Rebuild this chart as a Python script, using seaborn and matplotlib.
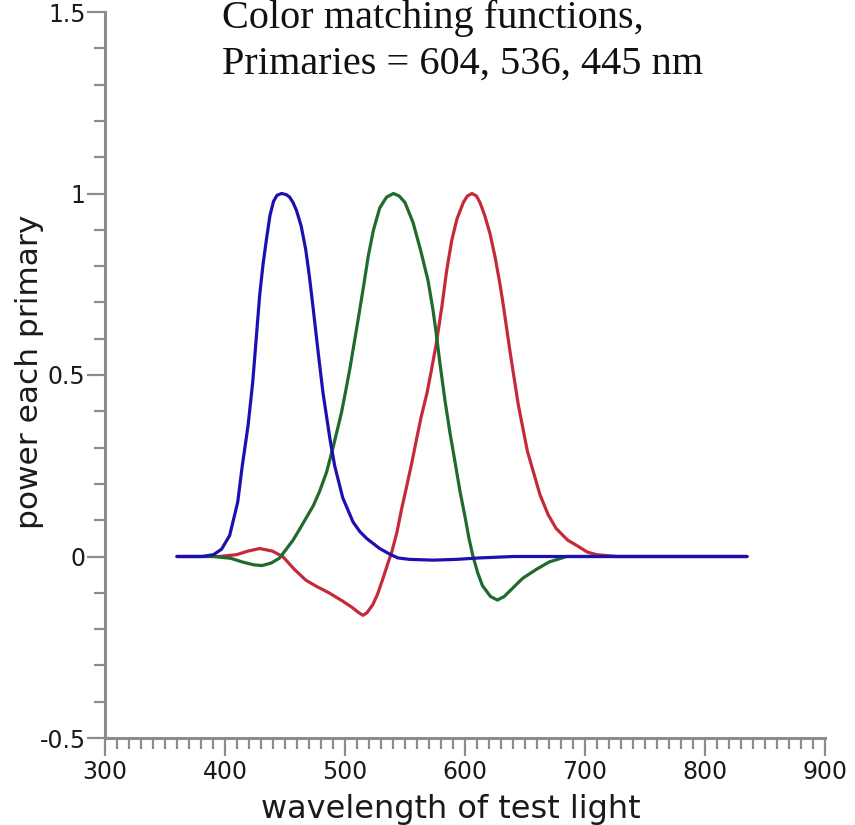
import numpy as np
import pandas as pd
import matplotlib
matplotlib.use("Agg")
import matplotlib.pyplot as plt
from matplotlib.ticker import MultipleLocator, FixedLocator
import seaborn as sns

# ---- data ----
red_wl = [360, 395.2, 409.6, 419.2, 428.9, 439.4, 448.1, 457.7, 467.3, 476.0, 486.6, 498.1,
          505.8, 511.6, 515.0, 518.3, 523.1, 527.0, 531.7, 535.6, 539.0, 543.3, 547.1, 551.5,
          555.8, 559.6, 563.5, 568.3, 572.1, 576.0, 580.8, 584.6, 588.9, 593.3, 598.6, 601.9,
          605.8, 609.6, 612.5, 616.4, 620.8, 625.0, 628.9, 631.8, 637.5, 644.3, 652.0, 662.5,
          669.3, 676.0, 685.6, 693.3, 702.0, 709.7, 727.0, 784.7, 835]
red_val = [0, 0, 0.005, 0.015, 0.022, 0.015, 0, -0.035, -0.065, -0.082, -0.10, -0.123,
           -0.14, -0.155, -0.162, -0.155, -0.133, -0.105, -0.06, -0.02, 0.013, 0.067, 0.13, 0.195,
           0.26, 0.323, 0.385, 0.45, 0.515, 0.585, 0.69, 0.785, 0.87, 0.93, 0.975, 0.993,
           1.0, 0.993, 0.975, 0.94, 0.89, 0.826, 0.755, 0.695, 0.565, 0.42, 0.29, 0.17,
           0.115, 0.077, 0.045, 0.03, 0.012, 0.005, 0, 0, 0]

green_wl = [360, 390.4, 404.8, 414.4, 424.0, 430.8, 438.5, 445.2, 451.0, 456.7, 462.5, 468.3,
            473.6, 478.9, 484.6, 490.4, 497.1, 500.8, 504.2, 507.5, 510.8, 515.4, 519.3, 523.6,
            528.9, 534.6, 540.4, 545.2, 550.0, 556.7, 563.3, 569.2, 573.3, 575.8, 579.2, 583.3,
            587.5, 591.7, 595.8, 600.0, 603.3, 606.7, 610.6, 614.5, 621.2, 627.0, 632.7, 640.4,
            648.1, 659.7, 670.2, 684.7, 707.7, 736.6, 784.7, 835]
green_val = [0, 0, -0.005, -0.015, -0.023, -0.025, -0.018, -0.005, 0.02, 0.045, 0.077, 0.11,
             0.14, 0.18, 0.232, 0.305, 0.397, 0.46, 0.52, 0.585, 0.65, 0.743, 0.826, 0.898,
             0.96, 0.99, 1.0, 0.993, 0.975, 0.92, 0.84, 0.76, 0.68, 0.62, 0.53, 0.43,
             0.34, 0.26, 0.18, 0.11, 0.05, 0.0, -0.045, -0.08, -0.11, -0.12, -0.11, -0.085,
             -0.06, -0.035, -0.015, 0, 0, 0, 0, 0]

blue_wl = [360, 380.8, 390.4, 397.1, 403.9, 410.6, 414.4, 419.2, 423.1, 426.0, 428.9, 431.7,
           434.6, 437.5, 440.4, 443.3, 447.1, 451.0, 453.9, 456.7, 459.6, 463.5, 467.3, 470.2,
           473.6, 477.9, 481.7, 487.5, 491.4, 498.1, 506.7, 512.5, 518.3, 528.9, 537.5, 544.2,
           553.9, 573.1, 592.3, 611.6, 640.4, 688.5, 736.6, 784.7, 835]
blue_val = [0, 0, 0.005, 0.02, 0.058, 0.15, 0.25, 0.36, 0.48, 0.60, 0.72, 0.805,
            0.875, 0.94, 0.978, 0.995, 1.0, 0.997, 0.99, 0.975, 0.953, 0.91, 0.845, 0.775,
            0.68, 0.555, 0.45, 0.323, 0.25, 0.162, 0.095, 0.068, 0.049, 0.022, 0.006, -0.004,
            -0.008, -0.01, -0.008, -0.004, 0, 0, 0, 0, 0]

primaries = ["red", "green", "blue"]
title_lines = ["Color matching functions,", "Primaries = 604, 536, 445 nm"]
x_ticks = [300, 400, 500, 600, 700, 800, 900]
y_ticks = [-0.5, 0, 0.5, 1, 1.5]
y_tick_labels = ["-0.5", "0", "0.5", "1", "1.5"]

df = pd.concat([
    pd.DataFrame({"wavelength": red_wl, "power": red_val, "primary": "red"}),
    pd.DataFrame({"wavelength": green_wl, "power": green_val, "primary": "green"}),
    pd.DataFrame({"wavelength": blue_wl, "power": blue_val, "primary": "blue"}),
], ignore_index=True)

sns.set_style("ticks")
plt.rcParams["font.family"] = ["DejaVu Sans"]

fig = plt.figure(figsize=(8.55, 8.25), dpi=100)
ax = fig.add_axes([105 / 855, 1 - 738 / 825, (825 - 105) / 855, (738 - 12) / 825])

palette = {"red": "#c42a3c", "green": "#1f6a2c", "blue": "#1c10b0"}
sns.lineplot(data=df, x="wavelength", y="power", hue="primary", hue_order=primaries,
             palette=palette, estimator=None, sort=False, legend=False, linewidth=2.3, ax=ax)

ax.set_xlim(300, 900)
ax.set_ylim(-0.5, 1.5)
ax.xaxis.set_major_locator(FixedLocator(x_ticks))
ax.yaxis.set_major_locator(FixedLocator(y_ticks))
ax.set_yticklabels(y_tick_labels)
ax.xaxis.set_minor_locator(MultipleLocator(10))
ax.yaxis.set_minor_locator(MultipleLocator(0.1))
ax.set_xlabel("")
ax.set_ylabel("")

gray = "#8c8c8c"
for side in ["top", "right"]:
    ax.spines[side].set_visible(False)
for side in ["left", "bottom"]:
    ax.spines[side].set_color(gray)
    ax.spines[side].set_linewidth(2.2)
ax.tick_params(which="major", direction="out", length=13, width=1.6, color=gray,
               labelsize=17, pad=1, labelcolor="#1a1a1a")
ax.tick_params(which="minor", direction="out", length=8, width=1.6, color=gray)
ax.tick_params(axis="x", which="major", pad=3)

fig.text(222 / 855, 1 - 28 / 825, title_lines[0], family="Liberation Serif", fontsize=29,
         ha="left", va="baseline", color="#111111")
fig.text(222 / 855, 1 - 74 / 825, title_lines[1], family="Liberation Serif", fontsize=29,
         ha="left", va="baseline", color="#111111")
fig.text(451 / 855, 1 - 818 / 825, "wavelength of test light", fontsize=23,
         ha="center", va="baseline", color="#1a1a1a")
fig.text(30 / 855, 1 - 372 / 825, "power each primary", fontsize=22.5, rotation=90,
         ha="center", va="center", color="#1a1a1a")

fig.savefig("out.png", dpi=100)
